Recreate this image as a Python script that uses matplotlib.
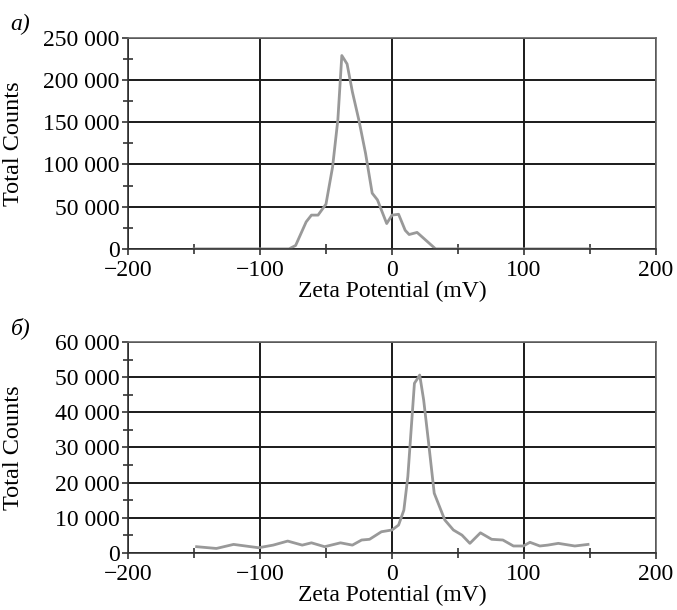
import numpy as np
import matplotlib.pyplot as plt
from matplotlib.ticker import FuncFormatter, MultipleLocator

plt.rcParams['font.family'] = ['Liberation Serif', 'DejaVu Serif']

# panel a) data
zeta_a = [-150, -78, -73, -65, -61, -56, -50, -45, -41, -38, -34, -30, -25, -20,
          -15, -11, -4, 0, 5, 10, 13, 19, 33, 150]
counts_a = [0, 0, 4000, 32000, 40000, 40000, 53000, 97000, 153000, 229000, 219000,
            186000, 152000, 113000, 66000, 58000, 30000, 40000, 41000, 22000, 17000,
            19500, 0, 0]

# panel б) data
zeta_b = [-148, -133, -120, -101, -90, -79, -68, -61, -51, -39, -30, -23, -17, -8,
          0, 5, 9, 12, 17, 19, 21, 24, 27.5, 32, 40, 46.5, 53, 59, 67, 75.5, 84,
          92, 99.5, 104.5, 112, 118, 126, 138.5, 148.5]
counts_b = [1800, 1300, 2450, 1500, 2250, 3400, 2250, 2900, 1800, 2900, 2250, 3700,
            3900, 6050, 6550, 7950, 12200, 21700, 48250, 49400, 50600, 43500, 32100,
            17000, 9400, 6550, 5100, 2750, 5750, 3900, 3700, 2000, 2000, 3050, 2000,
            2250, 2750, 2000, 2450]

xticks = [-200, -100, 0, 100, 200]
xminor = [-150, -50, 50, 150]

def thousands(v, pos):
    return '{:,}'.format(int(v)).replace(',', ' ')

def style_axes(ax, ymax, ystep, label):
    ax.set_xlim(-200, 200)
    ax.set_ylim(0, ymax)
    ax.set_xticks(xticks)
    ax.set_xticks(xminor, minor=True)
    ax.yaxis.set_major_locator(MultipleLocator(ystep))
    ax.yaxis.set_minor_locator(MultipleLocator(ystep / 2))
    ax.yaxis.set_major_formatter(FuncFormatter(thousands))
    ax.grid(True, which='major', color='#1a1a1a', linewidth=1.4)
    ax.set_axisbelow(True)
    for s in ['top', 'right']:
        ax.spines[s].set_color('#666666')
        ax.spines[s].set_linewidth(1.2)
    for s in ['left', 'bottom']:
        ax.spines[s].set_color('#333333')
        ax.spines[s].set_linewidth(1.2)
    ax.tick_params(which='major', direction='out', length=4, width=1.2,
                   labelsize=17, color='#333333')
    ax.tick_params(axis='x', which='major', pad=4)
    ax.tick_params(axis='y', which='major', pad=2)
    ax.tick_params(which='minor', direction='inout', length=7, width=1.2,
                   color='#333333')
    ax.set_xlabel('Zeta Potential (mV)', fontsize=17, labelpad=0)
    ax.set_ylabel('Total Counts', fontsize=17.5)
    ax.yaxis.set_label_coords(-0.197, 0.5)
    ax.text(-0.222, 1.015, label, transform=ax.transAxes, fontsize=17,
            style='italic', ha='left', va='bottom')

fig = plt.figure(figsize=(6.77, 6.10), dpi=100)
ax1 = fig.add_axes([0.189, 0.592, 0.780, 0.346])
ax2 = fig.add_axes([0.189, 0.0934, 0.780, 0.346])

ax1.plot(zeta_a, counts_a, color='#999999', linewidth=2)
style_axes(ax1, 250000, 50000, 'а)')

ax2.plot(zeta_b, counts_b, color='#999999', linewidth=2)
style_axes(ax2, 60000, 10000, 'б)')

fig.savefig('out.png', dpi=100)
